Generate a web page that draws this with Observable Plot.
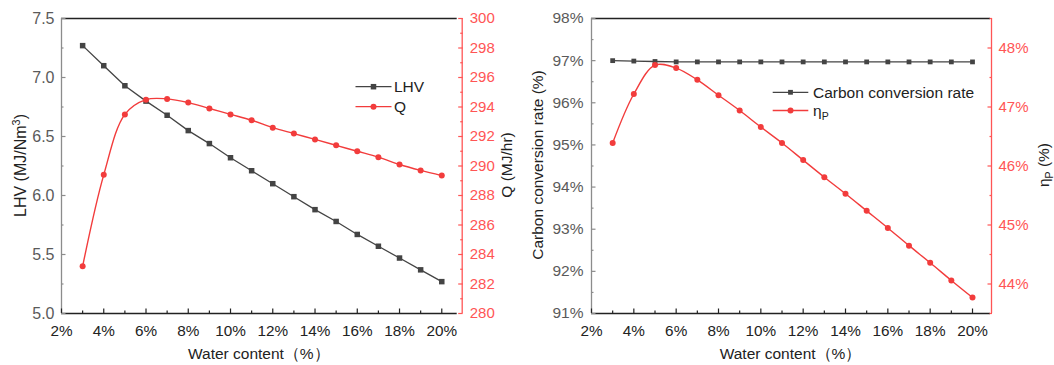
<!DOCTYPE html>
<html>
<head>
<meta charset="utf-8">
<script src="https://cdn.jsdelivr.net/npm/d3@7"></script>
<script src="https://cdn.jsdelivr.net/npm/@observablehq/plot@0.6"></script>
<style>
  body { margin: 0; background: #fff; }
  #chart { position: relative; width: 1054px; height: 365px; overflow: hidden; }
  .panel { position: absolute; top: 0; width: 527px; height: 365px; }
  .panel svg { position: absolute; left: 0; top: 0; }
</style>
</head>
<body>
<div id="chart"></div>
<script>
// Water content of the feed (%)
const water = [3, 4, 5, 6, 7, 8, 9, 10, 11, 12, 13, 14, 15, 16, 17, 18, 19, 20];

// Left panel: lower heating value of the syngas and heat output
const lhv = [7.27, 7.10, 6.93, 6.80, 6.68, 6.55, 6.44, 6.32, 6.21, 6.10, 5.99, 5.88, 5.78, 5.67, 5.57, 5.47, 5.37, 5.27];
const q = [283.2, 289.4, 293.5, 294.5, 294.55, 294.3, 293.9, 293.5, 293.1, 292.6, 292.2, 291.8, 291.4, 291.0, 290.6, 290.1, 289.7, 289.35];

// Right panel: carbon conversion rate and efficiency η_P
const carbon = [97.00, 96.99, 96.98, 96.97, 96.97, 96.97, 96.97, 96.97, 96.97, 96.97, 96.97, 96.97, 96.97, 96.97, 96.97, 96.97, 96.97, 96.97];
const eta = [46.39, 47.22, 47.71, 47.66, 47.46, 47.20, 46.94, 46.66, 46.39, 46.10, 45.81, 45.53, 45.24, 44.95, 44.65, 44.36, 44.06, 43.77];

// Tick values
const waterTicks = [2, 4, 6, 8, 10, 12, 14, 16, 18, 20];
const waterMinor = [3, 5, 7, 9, 11, 13, 15, 17, 19];
const lhvTicks = [5.0, 5.5, 6.0, 6.5, 7.0, 7.5];
const lhvMinor = [5.25, 5.75, 6.25, 6.75, 7.25];
const qTicks = [280, 282, 284, 286, 288, 290, 292, 294, 296, 298, 300];
const qMinor = [281, 283, 285, 287, 289, 291, 293, 295, 297, 299];
const carbonTicks = [91, 92, 93, 94, 95, 96, 97, 98];
const carbonMinor = [91.5, 92.5, 93.5, 94.5, 95.5, 96.5, 97.5];
const etaTicks = [44, 45, 46, 47, 48];
const etaMinor = [43.5, 44.5, 45.5, 46.5, 47.5, 48.5];

const FONT = '"Liberation Sans", Arial, Helvetica, sans-serif';
const INK = "#222";
const AXIS_GRAY = "#8c8c8c";
const LABEL_GRAY = "#5a5a5a";
const SERIES_GRAY = "#444";
const RED = "#f23c3c";
const AXIS_RED = "#ff5555";
const H = 365, MT = 18, MB = 52;

const rows = water.map((w, i) => ({water: w, lhv: lhv[i], q: q[i], carbon: carbon[i], eta: eta[i]}));
const pct = d => d + "%";

function layer({width, marginLeft, marginRight, xDomain, yDomain, marks}) {
  return Plot.plot({
    width, height: H, marginLeft, marginRight, marginTop: MT, marginBottom: MB,
    x: {domain: xDomain, axis: null},
    y: {domain: yDomain, axis: null},
    style: {background: "transparent", fontFamily: FONT, overflow: "visible"},
    marks
  });
}

// inward tick marks plus labels on a y axis
function yAxis(anchor, major, minor, {color, textColor, format, fontSize = 15, padding = 7, dx = 0}) {
  return [
    Plot.axisY(minor, {anchor, tickSize: -2.5, fill: "none", stroke: color, strokeWidth: 1.2, label: null, dx}),
    Plot.axisY(major, {anchor, tickSize: -4.5, fill: "none", stroke: color, strokeWidth: 1.2, label: null, dx}),
    Plot.axisY(major, {anchor, tickSize: 0, tickPadding: padding, fill: textColor, fontSize, tickFormat: format, label: null, dx})
  ];
}

function xAxis() {
  return [
    Plot.axisX(waterMinor, {tickSize: -2.5, fill: "none", stroke: INK, strokeWidth: 1.2, label: null}),
    Plot.axisX(waterTicks, {tickSize: -4.5, fill: "none", stroke: INK, strokeWidth: 1.2, label: null}),
    Plot.axisX(waterTicks, {tickSize: 0, tickPadding: 12, fill: INK, fontSize: 15.3, tickFormat: pct, label: null})
  ];
}

function addText(svg, {x, y, rotate = 0, parts, size = 15.5}) {
  const t = d3.select(svg).append("text")
    .attr("transform", `translate(${x},${y}) rotate(${rotate})`)
    .attr("text-anchor", "middle").attr("dy", "0.35em")
    .attr("font-family", FONT).attr("font-size", size).attr("fill", INK);
  parts.forEach(p => {
    const s = t.append("tspan").text(p.text);
    if (p.sub) s.attr("font-size", size * 0.68).attr("dy", 4);
    if (p.sup) s.attr("font-size", size * 0.68).attr("dy", -6);
    if (p.reset) s.attr("dy", p.reset);
  });
}

function addLegend(svg, {x0, x1, xt, items}) {
  const g = d3.select(svg).append("g")
    .attr("font-family", FONT).attr("font-size", 15.5).attr("text-anchor", "start");
  items.forEach(it => {
    g.append("line").attr("x1", x0).attr("x2", x1).attr("y1", it.y).attr("y2", it.y)
      .attr("stroke", it.color).attr("stroke-width", 1.3);
    const xm = (x0 + x1) / 2;
    if (it.symbol === "square") {
      const s = it.size;
      g.append("rect").attr("x", xm - s / 2).attr("y", it.y - s / 2).attr("width", s).attr("height", s).attr("fill", it.color);
    } else {
      g.append("circle").attr("cx", xm).attr("cy", it.y).attr("r", it.size / 2).attr("fill", it.color);
    }
    const t = g.append("text").attr("x", xt).attr("y", it.y).attr("dy", "0.35em")
      .attr("text-anchor", "start").attr("fill", INK);
    it.parts.forEach(p => {
      const s = t.append("tspan").text(p.text);
      if (p.sub) s.attr("font-size", 10.5).attr("dy", 4);
    });
  });
}

function panel(left, width) {
  const div = document.createElement("div");
  div.className = "panel";
  div.style.left = left + "px";
  div.style.width = width + "px";
  document.getElementById("chart").appendChild(div);
  return div;
}

// ---------- Left panel: LHV and Q ----------
{
  const width = 527, mL = 61, mR = 70.3, xDomain = [2, 20.73];
  const lhvDomain = [5, 7.5], qDomain = [280, 300];
  const div = panel(0, width);

  const base = layer({
    width, marginLeft: mL, marginRight: mR, xDomain, yDomain: lhvDomain,
    marks: [
      Plot.ruleY([lhvDomain[1]], {stroke: INK, strokeWidth: 1.3}),
      Plot.ruleY([lhvDomain[0]], {stroke: INK, strokeWidth: 1.3}),
      Plot.ruleX([xDomain[0]], {stroke: AXIS_GRAY, strokeWidth: 1.3}),
      ...xAxis(),
      ...yAxis("left", lhvTicks, lhvMinor, {color: AXIS_GRAY, textColor: LABEL_GRAY, format: d3.format(".1f"), fontSize: 16}),
      Plot.line(rows, {x: "water", y: "lhv", stroke: SERIES_GRAY, strokeWidth: 1.3}),
      Plot.dot(rows, {x: "water", y: "lhv", symbol: "square", r: 3.1, fill: SERIES_GRAY})
    ]
  });
  const over = layer({
    width, marginLeft: mL, marginRight: mR, xDomain, yDomain: qDomain,
    marks: [
      Plot.ruleX([xDomain[1]], {dx: 5, stroke: AXIS_RED, strokeWidth: 1.3}),
      ...yAxis("right", qTicks, qMinor, {color: AXIS_RED, textColor: AXIS_RED, format: d => d, dx: 5, padding: 7.5}),
      Plot.line(rows, {x: "water", y: "q", stroke: RED, strokeWidth: 1.4, curve: "catmull-rom"}),
      Plot.dot(rows, {x: "water", y: "q", r: 3, fill: RED})
    ]
  });
  div.appendChild(base);
  div.appendChild(over);

  addText(base, {x: 20, y: 165.5, rotate: -90, size: 16, parts: [{text: "LHV (MJ/Nm"}, {text: "3", sup: true}, {text: ")", reset: 6}]});
  addText(base, {x: 507, y: 165, rotate: -90, parts: [{text: "Q (MJ/hr)"}]});
  addText(base, {x: 258.8, y: 354, parts: [{text: "Water content（%）"}]});
  addLegend(over, {x0: 355.5, x1: 391.5, xt: 394, items: [
    {y: 86.7, color: SERIES_GRAY, symbol: "square", size: 5.5, parts: [{text: "LHV"}]},
    {y: 106.7, color: RED, symbol: "circle", size: 6, parts: [{text: "Q"}]}
  ]});
}

// ---------- Right panel: carbon conversion rate and η_P ----------
{
  const width = 527, mL = 64, mR = 64, xDomain = [2, 20.85];
  const carbonDomain = [91, 98], etaDomain = [43.5, 48.5];
  const div = panel(527, width);

  const base = layer({
    width, marginLeft: mL, marginRight: mR, xDomain, yDomain: carbonDomain,
    marks: [
      Plot.ruleY([carbonDomain[1]], {stroke: INK, strokeWidth: 1.3}),
      Plot.ruleY([carbonDomain[0]], {stroke: INK, strokeWidth: 1.3}),
      Plot.ruleX([xDomain[0]], {stroke: AXIS_GRAY, strokeWidth: 1.3}),
      ...xAxis(),
      ...yAxis("left", carbonTicks, carbonMinor, {color: AXIS_GRAY, textColor: LABEL_GRAY, format: pct, fontSize: 15.5, padding: 8}),
      Plot.line(rows, {x: "water", y: "carbon", stroke: SERIES_GRAY, strokeWidth: 1.3}),
      Plot.dot(rows, {x: "water", y: "carbon", symbol: "square", r: 2.7, fill: SERIES_GRAY})
    ]
  });
  const over = layer({
    width, marginLeft: mL, marginRight: mR, xDomain, yDomain: etaDomain,
    marks: [
      Plot.ruleX([xDomain[1]], {dx: 1, stroke: AXIS_RED, strokeWidth: 1.3}),
      ...yAxis("right", etaTicks, etaMinor, {color: AXIS_RED, textColor: AXIS_RED, format: pct, dx: 1, padding: 7}),
      Plot.line(rows, {x: "water", y: "eta", stroke: RED, strokeWidth: 1.4, curve: "catmull-rom"}),
      Plot.dot(rows, {x: "water", y: "eta", r: 3, fill: RED})
    ]
  });
  div.appendChild(base);
  div.appendChild(over);

  addText(base, {x: 11, y: 165, rotate: -90, parts: [{text: "Carbon conversion rate (%)"}]});
  addText(base, {x: 516.5, y: 165, rotate: -90, parts: [{text: "η"}, {text: "P", sub: true}, {text: " (%)", reset: -4}]});
  addText(base, {x: 263.5, y: 354, parts: [{text: "Water content（%）"}]});
  addLegend(over, {x0: 245.7, x1: 281.3, xt: 286, items: [
    {y: 92.3, color: SERIES_GRAY, symbol: "square", size: 4.8, parts: [{text: "Carbon conversion rate"}]},
    {y: 110.5, color: RED, symbol: "circle", size: 6, parts: [{text: "η"}, {text: "P", sub: true}]}
  ]});
}
</script>
</body>
</html>
